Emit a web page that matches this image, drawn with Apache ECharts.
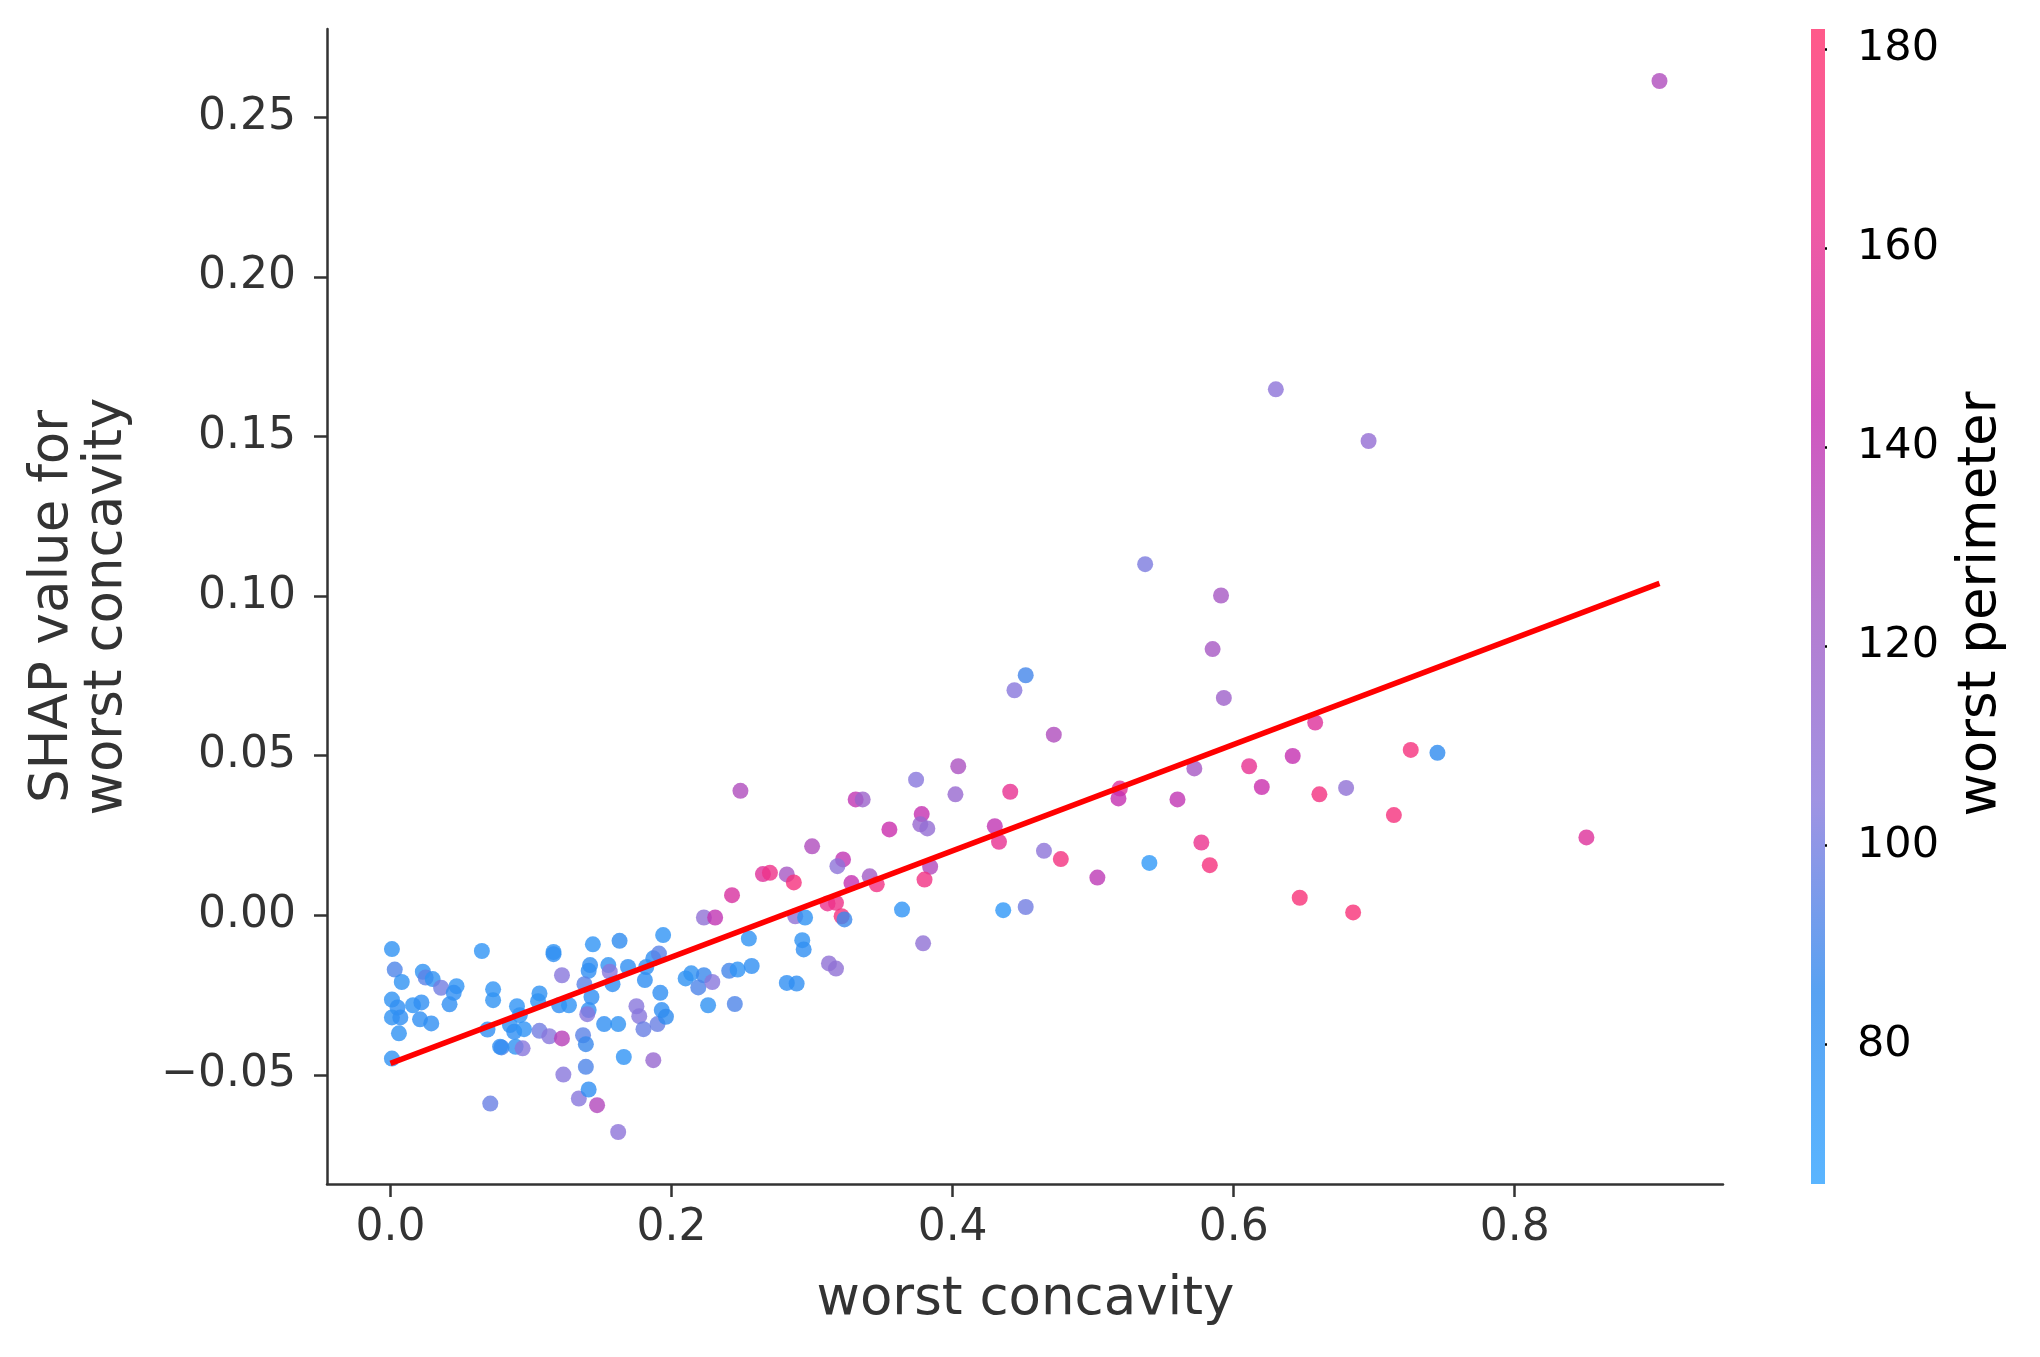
<!DOCTYPE html>
<html>
<head>
<meta charset="utf-8">
<script src="https://cdn.jsdelivr.net/npm/echarts@6/dist/echarts.min.js"></script>
<style>html,body{margin:0;padding:0;background:#fff}#c{width:2040px;height:1357px}</style>
</head>
<body>
<div id="c"></div>
<script>
// ---- data ----
const worstConcavity = [
  0.001,0.003,0.008,0.001,0.005,0.001,0.007,0.006,0.001,0.023,0.025,0.030,0.036,0.047,0.045,0.042,0.016,0.022,0.021,0.029,
  0.065,0.073,0.073,0.069,0.090,0.092,0.085,0.088,0.095,0.079,0.078,0.089,0.094,0.106,0.105,0.116,0.116,0.122,0.120,0.127,
  0.106,0.113,0.122,0.071,0.123,0.134,0.141,0.147,0.162,0.139,0.137,0.139,0.166,0.187,0.144,0.163,0.194,0.142,0.141,0.138,
  0.143,0.141,0.140,0.155,0.156,0.158,0.169,0.152,0.162,0.181,0.182,0.187,0.191,0.192,0.175,0.177,0.180,0.190,0.193,0.196,
  0.223,0.231,0.288,0.295,0.311,0.317,0.321,0.323,0.364,0.379,0.255,0.293,0.294,0.214,0.210,0.223,0.219,0.229,0.241,0.247,
  0.257,0.312,0.317,0.282,0.289,0.226,0.245,
  0.249,0.331,0.336,0.374,0.404,0.402,0.441,0.300,0.355,0.378,0.377,0.382,0.430,0.433,0.465,0.477,0.322,0.318,0.265,0.270,
  0.282,0.287,0.243,0.328,0.341,0.346,0.384,0.380,0.436,0.452,
  0.585,0.593,0.452,0.444,0.472,0.658,0.642,0.611,0.620,0.661,0.572,0.519,0.518,0.560,0.503,0.540,0.577,0.583,0.647,0.680,
  0.630,0.696,0.537,0.591,0.726,0.745,0.714,0.851,0.685,0.903
];
const shapValues = [
  -0.0106,-0.0170,-0.0209,-0.0264,-0.0289,-0.0320,-0.0320,-0.0370,-0.0449,-0.0177,-0.0195,-0.0200,-0.0227,-0.0222,-0.0243,-0.0279,-0.0282,-0.0273,-0.0326,-0.0339,
  -0.0112,-0.0232,-0.0266,-0.0358,-0.0285,-0.0313,-0.0344,-0.0365,-0.0357,-0.0414,-0.0412,-0.0412,-0.0417,-0.0245,-0.0269,-0.0115,-0.0122,-0.0188,-0.0282,-0.0282,
  -0.0362,-0.0379,-0.0386,-0.0590,-0.0499,-0.0574,-0.0546,-0.0595,-0.0679,-0.0475,-0.0376,-0.0404,-0.0444,-0.0454,-0.0091,-0.0080,-0.0062,-0.0156,-0.0174,-0.0216,
  -0.0256,-0.0297,-0.0310,-0.0156,-0.0177,-0.0216,-0.0162,-0.0341,-0.0341,-0.0203,-0.0162,-0.0135,-0.0120,-0.0243,-0.0285,-0.0316,-0.0357,-0.0341,-0.0297,-0.0318,
  -0.0007,-0.0007,-0.0003,-0.0007,0.0037,0.0039,-0.0003,-0.0013,0.0018,-0.0088,-0.0073,-0.0078,-0.0107,-0.0182,-0.0198,-0.0188,-0.0226,-0.0209,-0.0174,-0.0170,
  -0.0159,-0.0151,-0.0167,-0.0212,-0.0214,-0.0282,-0.0278,
  0.0390,0.0363,0.0363,0.0425,0.0467,0.0379,0.0387,0.0216,0.0269,0.0317,0.0285,0.0272,0.0279,0.0230,0.0202,0.0176,0.0175,0.0154,0.0129,0.0133,
  0.0128,0.0103,0.0063,0.0101,0.0122,0.0097,0.0152,0.0112,0.0016,0.0026,
  0.0834,0.0681,0.0752,0.0705,0.0566,0.0604,0.0499,0.0467,0.0402,0.0379,0.0460,0.0397,0.0366,0.0363,0.0118,0.0164,0.0228,0.0157,0.0055,0.0399,
  0.1648,0.1486,0.1100,0.1002,0.0518,0.0509,0.0314,0.0244,0.0009,0.2614
];
const worstPerimeter = [
  80,92,80,80,82,80,82,80,80,80,95,80,100,78,82,82,78,82,82,82,
  78,78,80,82,78,80,80,82,78,92,82,80,105,80,80,80,82,105,82,78,
  100,105,135,98,105,105,82,132,108,92,95,88,78,115,78,85,78,82,82,95,
  82,82,105,80,105,82,82,82,80,82,82,82,95,82,105,105,98,98,82,85,
  110,140,110,80,162,165,172,88,78,110,80,80,82,80,80,88,92,105,90,78,
  82,110,110,82,82,80,92,
  130,140,118,105,128,115,160,130,145,142,115,112,140,160,108,170,140,108,155,165,
  125,172,152,142,122,168,132,168,76,100,
  125,120,90,105,130,155,142,160,145,170,125,155,142,140,138,74,162,172,175,110,
  108,112,102,125,172,85,172,155,175,130
];
const fitLineX = [0.0, 0.903];
const fitLineY = [-0.0464, 0.1040];
const xTickValues = [0.0, 0.2, 0.4, 0.6, 0.8];
const yTickValues = [-0.05, 0.0, 0.05, 0.10, 0.15, 0.20, 0.25];
const colorbarTicks = [80, 100, 120, 140, 160, 180];
const colorbarMin = 66, colorbarMax = 182;
const xAxisTitle = 'worst concavity';
const yAxisTitle = 'SHAP value for\nworst concavity';
const colorbarTitle = 'worst perimeter';

// ---- styling ----
const FONT = '"DejaVu Sans", "Liberation Sans", sans-serif';
// colours as they appear on the colour bar (evenly spaced from min to max)
const barColors = ['#5ab5ff', '#58a2f2', '#a093e3', '#b67bd0', '#d157bf', '#f05aa3', '#ff5a8a'];
const ALPHA = 0.8;
function toPure(hex) {
  const v = [1,3,5].map(i => parseInt(hex.substr(i,2),16));
  const p = v.map(c => Math.max(0, Math.min(255, Math.round((c - 255*(1-ALPHA)) / ALPHA))));
  return 'rgb(' + p.join(',') + ')';
}
const pointColors = barColors.map(toPure);

const scatterData = worstConcavity.map((x, i) => [x, shapValues[i], worstPerimeter[i]]);
const lineData = fitLineX.map((x, i) => [x, fitLineY[i]]);

const GRID = {left: 327, top: 29, width: 1396, height: 1155};
const CB = {left: 1811, top: 29, width: 14, height: 1155};

const fmtY = v => (v < 0 ? '\u2212' : '') + Math.abs(v).toFixed(2);

const chart = echarts.init(document.getElementById('c'), null, {renderer: 'canvas'});
chart.setOption({
  animation: false,
  backgroundColor: '#ffffff',
  grid: [
    {left: GRID.left, top: GRID.top, width: GRID.width, height: GRID.height, containLabel: false},
    {left: CB.left, top: CB.top, width: CB.width, height: CB.height, containLabel: false}
  ],
  xAxis: [
    {
      type: 'value', gridIndex: 0, min: -0.0452, max: 0.9482,
      axisLine: {show: true, onZero: false, lineStyle: {color: '#333333', width: 2.5}},
      axisTick: {show: true, length: 13, customValues: xTickValues, lineStyle: {color: '#333333', width: 2.5}},
      axisLabel: {customValues: xTickValues, formatter: v => v.toFixed(1), fontSize: 44, fontFamily: FONT, color: '#333333', margin: 23},
      splitLine: {show: false}
    },
    {type: 'value', gridIndex: 1, min: 0, max: 1, show: false}
  ],
  yAxis: [
    {
      type: 'value', gridIndex: 0, min: -0.0842, max: 0.2777,
      axisLine: {show: true, onZero: false, lineStyle: {color: '#333333', width: 2.5}},
      axisTick: {show: true, length: 13, customValues: yTickValues, lineStyle: {color: '#333333', width: 2.5}},
      axisLabel: {customValues: yTickValues, formatter: fmtY, fontSize: 44, fontFamily: FONT, color: '#333333', margin: 31},
      splitLine: {show: false}
    },
    {
      type: 'value', gridIndex: 1, position: 'right', min: colorbarMin, max: colorbarMax,
      axisLine: {show: false},
      axisTick: {show: true, length: 16, customValues: colorbarTicks, lineStyle: {color: '#000000', width: 2.5}},
      axisLabel: {customValues: colorbarTicks, fontSize: 43, fontFamily: FONT, color: '#000000', margin: 32},
      splitLine: {show: false}
    }
  ],
  visualMap: {
    type: 'continuous', show: false, dimension: 2, seriesIndex: 0,
    min: colorbarMin, max: colorbarMax,
    inRange: {color: pointColors}
  },
  series: [
    {
      type: 'scatter', xAxisIndex: 0, yAxisIndex: 0, data: scatterData,
      symbol: 'circle', symbolSize: 16, z: 2,
      itemStyle: {opacity: ALPHA}
    },
    {
      type: 'line', xAxisIndex: 0, yAxisIndex: 0, data: lineData,
      showSymbol: false, symbol: 'none', z: 5,
      lineStyle: {color: '#ff0000', width: 5.5}
    }
  ],
  graphic: [
    {
      type: 'rect', silent: true, z: 1,
      shape: {x: CB.left, y: CB.top, width: CB.width, height: CB.height},
      style: {
        fill: {
          type: 'linear', x: 0, y: 1, x2: 0, y2: 0,
          colorStops: barColors.map((c, i) => ({offset: i / (barColors.length - 1), color: c}))
        }
      }
    },
    {
      type: 'text', x: 80.4, y: 606.5, rotation: Math.PI / 2,
      style: {text: yAxisTitle, fontSize: 53, fontFamily: FONT, fill: '#333333', align: 'center', verticalAlign: 'middle', lineHeight: 54}
    },
    {
      type: 'text', x: 1025.5, y: 1300, 
      style: {text: xAxisTitle, fontSize: 53, fontFamily: FONT, fill: '#333333', align: 'center', verticalAlign: 'middle'}
    },
    {
      type: 'text', x: 1981.5, y: 604, rotation: Math.PI / 2,
      style: {text: colorbarTitle, fontSize: 53, fontFamily: FONT, fill: '#000000', align: 'center', verticalAlign: 'middle'}
    }
  ]
});
</script>
</body>
</html>
